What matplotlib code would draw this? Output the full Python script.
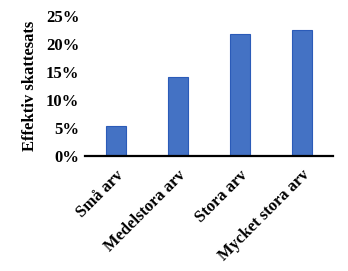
import matplotlib
matplotlib.use('Agg')
import matplotlib.pyplot as plt
from matplotlib.ticker import PercentFormatter

categories = ['Små arv', 'Medelstora arv', 'Stora arv', 'Mycket stora arv']
tax_rate = [5.4, 14.1, 21.8, 22.5]
yticks = [0, 5, 10, 15, 20, 25]

plt.rcParams.update({'font.family': ['Liberation Serif', 'DejaVu Serif'],
                     'font.weight': 'bold', 'font.size': 12})

fig = plt.figure(figsize=(3.48, 2.71), dpi=100)
ax = fig.add_axes([0.244, 0.424, 0.713, 0.517])

x = range(len(categories))
ax.bar(x, tax_rate, width=0.31, color='#4472C4', edgecolor='#2B5BB8', linewidth=0.8)

ax.set_xlim(-0.5, len(categories) - 0.5)
ax.set_ylim(0, 25)
ax.set_yticks(yticks)
ax.yaxis.set_major_formatter(PercentFormatter(decimals=0))
ax.set_xticks(list(x))
ax.set_xticklabels(categories, rotation=45, ha='right', rotation_mode='anchor')
ax.tick_params(axis='both', length=0, pad=4)
ax.tick_params(axis='x', pad=8)
ax.set_ylabel('Effektiv skattesats', fontweight='bold', labelpad=6)

for side in ['top', 'right', 'left']:
    ax.spines[side].set_visible(False)
ax.spines['bottom'].set_linewidth(1.6)
ax.spines['bottom'].set_color('black')

fig.savefig('out.png', dpi=100)
